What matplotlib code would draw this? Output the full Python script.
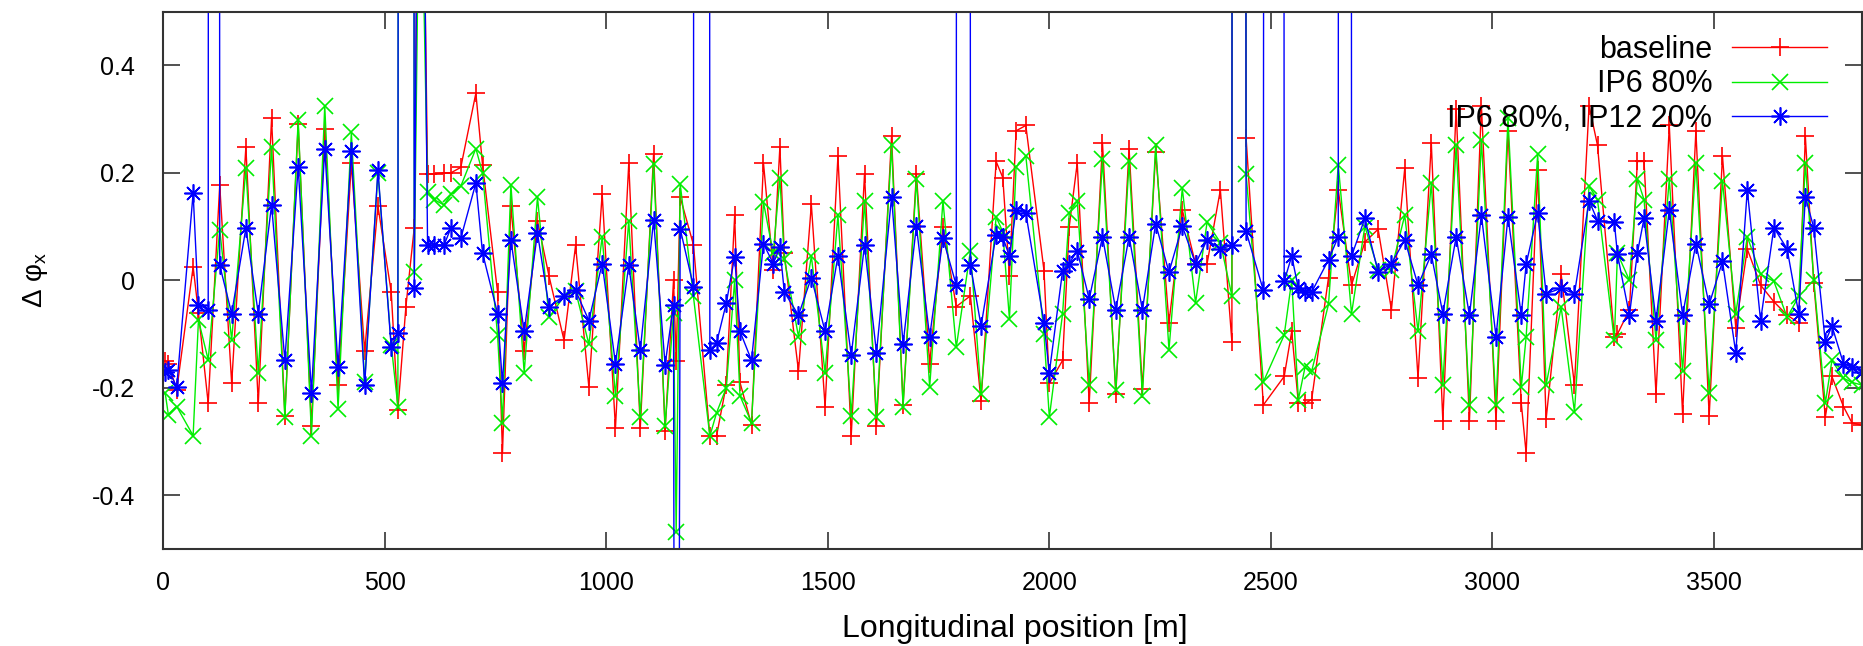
import numpy as np
import matplotlib
matplotlib.use("Agg")
import matplotlib.pyplot as plt

plt.rcParams["font.family"] = ["Liberation Sans", "DejaVu Sans"]

# longitudinal position of the monitors [m]
s_ring = [5, 12, 31, 68, 80, 102, 128, 155, 187, 215, 245, 275, 305, 335, 365,
          395, 425, 455, 485, 515, 530, 548, 567, 580, 597, 612, 634, 650, 672,
          706, 721, 755, 766, 785, 815, 845, 871, 905, 931, 961, 991, 1021,
          1051, 1077, 1107, 1133, 1152, 1158, 1167, 1197, 1234, 1249, 1271,
          1290, 1302, 1328, 1355, 1377, 1392, 1402, 1434, 1463, 1494, 1523,
          1553, 1583, 1610, 1644, 1670, 1700, 1730, 1760, 1790, 1822, 1846,
          1880, 1895, 1910, 1925, 1947, 1988, 2000, 2030, 2045, 2063, 2090,
          2120, 2150, 2180, 2210, 2240, 2270, 2300, 2330, 2356, 2386, 2412,
          2428, 2444, 2483, 2530, 2547, 2562, 2577, 2592, 2630, 2652, 2682,
          2712, 2742, 2772, 2802, 2832, 2862, 2888, 2918, 2948, 2975, 3008,
          3035, 3065, 3076, 3102, 3121, 3155, 3185, 3218, 3237, 3275, 3282,
          3309, 3327, 3342, 3369, 3399, 3429, 3459, 3489, 3519, 3549, 3575,
          3605, 3635, 3665, 3691, 3706, 3725, 3751, 3766, 3792, 3811, 3834]

dphi_base = [-0.15, -0.155, -0.204, 0.025, -0.06, -0.229, 0.177, -0.192, 0.248,
             -0.229, 0.301, -0.252, 0.291, -0.272, 0.281, -0.195, 0.218, -0.132,
             0.138, -0.022, -0.242, -0.05, 0.098, 1.2, 0.198, 0.198, 0.2, 0.2,
             0.21, 0.348, 0.215, -0.022, -0.322, 0.138, -0.132, 0.111, 0.008,
             -0.112, 0.065, -0.199, 0.161, -0.275, 0.218, -0.275, 0.235, -0.28,
             0.0, -0.15, 0.155, 0.066, -0.29, -0.29, -0.195, 0.121, -0.19,
             -0.269, 0.218, 0.02, 0.248, 0.05, -0.169, 0.141, -0.235, 0.231,
             -0.289, 0.198, -0.272, 0.268, -0.232, 0.198, -0.155, 0.1, -0.049,
             -0.029, -0.225, 0.221, 0.191, 0.008, 0.278, 0.288, 0.018, -0.192,
             -0.149, 0.1, 0.218, -0.229, 0.255, -0.212, 0.245, -0.202, 0.238,
             -0.079, 0.131, 0.03, 0.031, 0.168, -0.115, 25.0, 0.265, -0.232,
             -0.179, -0.095, -0.229, -0.229, -0.222, 0.005, 0.168, -0.009,
             0.071, 0.095, -0.055, 0.208, -0.182, 0.255, -0.262, 0.318, -0.262,
             0.325, -0.262, 0.278, -0.229, -0.322, 0.205, -0.259, 0.011, -0.195,
             0.325, 0.251, -0.105, -0.1, -0.055, 0.221, 0.221, -0.212, 0.288,
             -0.249, 0.278, -0.252, 0.231, -0.089, 0.058, -0.009, -0.04, -0.065,
             -0.079, 0.268, -0.005, -0.255, -0.179, -0.235, -0.265, -0.27]

dphi_ip6 = [-0.21, -0.25, -0.235, -0.289, -0.074, -0.148, 0.094, -0.111, 0.208,
            -0.173, 0.248, -0.255, 0.298, -0.289, 0.325, -0.239, 0.275, -0.189,
            0.2, -0.12, -0.235, 20.0, 0.015, 0.9, 0.165, 0.15, 0.14, 0.16,
            0.175, 0.245, 0.2, -0.102, -0.265, 0.178, -0.172, 0.155, -0.069,
            -0.03, -0.02, -0.119, 0.081, -0.215, 0.111, -0.255, 0.217, -0.272,
            -0.06, -0.468, 0.18, -0.03, -0.29, -0.247, -0.2, 0.0, -0.215,
            -0.265, 0.145, 0.05, 0.191, 0.04, -0.105, 0.045, -0.172, 0.121,
            -0.252, 0.148, -0.255, 0.251, -0.235, 0.188, -0.199, 0.148, -0.125,
            0.055, -0.212, 0.118, 0.09, -0.072, 0.211, 0.231, -0.1, -0.255,
            -0.062, 0.125, 0.148, -0.195, 0.225, -0.205, 0.221, -0.215, 0.251,
            -0.129, 0.171, -0.042, 0.108, 0.07, -0.029, 25.0, 0.198, -0.189,
            -0.102, 0.0, -0.222, -0.162, -0.169, -0.045, 0.215, -0.062, 0.1,
            0.02, 0.02, 0.121, -0.095, 0.181, -0.195, 0.251, -0.232, 0.261,
            -0.232, 0.301, -0.199, -0.105, 0.235, -0.195, -0.05, -0.245, 0.175,
            0.15, -0.112, 0.05, 0.0, 0.188, 0.15, -0.112, 0.188, -0.169, 0.218,
            -0.209, 0.185, -0.062, 0.081, 0.011, -0.002, -0.069, -0.03, 0.218,
            0.0, -0.229, -0.149, -0.182, -0.19, -0.195]

dphi_ip12 = [-0.17, -0.167, -0.198, 0.162, -0.046, -0.055, 0.028, -0.062, 0.097,
             -0.062, 0.14, -0.149, 0.211, -0.209, 0.245, -0.162, 0.241, -0.195,
             0.205, -0.125, -0.099, 20.0, -0.015, 1.5, 0.065, 0.065, 0.065,
             0.098, 0.078, 0.181, 0.051, -0.062, -0.192, 0.075, -0.095, 0.088,
             -0.049, -0.029, -0.019, -0.075, 0.031, -0.155, 0.028, -0.13, 0.112,
             -0.157, -0.046, -3.0, 0.096, -0.012, -0.13, -0.117, -0.043, 0.044,
             -0.095, -0.149, 0.068, 0.031, 0.061, -0.022, -0.065, 0.005, -0.095,
             0.045, -0.139, 0.065, -0.135, 0.155, -0.119, 0.101, -0.105, 0.078,
             -0.009, 0.028, -0.085, 0.085, 0.08, 0.045, 0.131, 0.125, -0.079,
             -0.172, 0.018, 0.031, 0.055, -0.035, 0.081, -0.055, 0.081, -0.055,
             0.105, 0.015, 0.101, 0.031, 0.075, 0.058, 0.065, 25.0, 0.091,
             -0.019, -0.002, 0.045, -0.015, -0.022, -0.022, 0.038, 0.081, 0.045,
             0.115, 0.015, 0.031, 0.075, -0.009, 0.048, -0.062, 0.081, -0.065,
             0.121, -0.105, 0.118, -0.065, 0.03, 0.125, -0.025, -0.015, -0.025,
             0.148, 0.111, 0.108, 0.048, -0.065, 0.051, 0.115, -0.075, 0.131,
             -0.065, 0.068, -0.045, 0.035, -0.135, 0.168, -0.075, 0.098, 0.058,
             -0.062, 0.155, 0.098, -0.115, -0.085, -0.155, -0.162, -0.17]

# extra monitors only in the IP12 case, far off scale
s_ip12_spikes = [115, 1215, 1807, 2510, 2666]
dphi_ip12_spikes = [30.0, 30.0, 30.0, 30.0, 30.0]

labels = ["baseline", "IP6 80%", "IP6 80%, IP12 20%"]

s_blue = np.concatenate([s_ring, s_ip12_spikes])
v_blue = np.concatenate([dphi_ip12, dphi_ip12_spikes])
order = np.argsort(s_blue)

fig = plt.figure(figsize=(18.63, 6.46), dpi=100)
ax = fig.add_axes([163 / 1863, 97 / 646, 1 - 163 / 1863 - 0.0005, 537.5 / 646])

ax.plot(s_ring, dphi_base, color="#ff0000", lw=1.0, marker="+", ms=13,
        mew=1.2, label=labels[0])
ax.plot(s_ring, dphi_ip6, color="#00ee00", lw=1.0, marker="x", ms=11,
        mew=1.2, label=labels[1])
ax.plot(s_blue[order], v_blue[order], color="#0000ff", lw=1.0,
        marker=(8, 2, 0), ms=13, mew=1.2, label=labels[2])

ax.set_xlim(0, 3834)
ax.set_ylim(-0.5, 0.5)
ax.set_xticks(np.arange(0, 3501, 500))
ax.set_yticks([-0.4, -0.2, 0, 0.2, 0.4])
ax.set_yticklabels(["-0.4", "-0.2", "0", "0.2", "0.4"])
ax.tick_params(direction="in", length=12, width=1.2, top=True, right=True,
               labelsize=18, color="#333333")
ax.tick_params(axis="y", pad=20)
ax.tick_params(axis="x", pad=16)
for sp in ax.spines.values():
    sp.set_linewidth(1.5)
    sp.set_color("#333333")

ax.set_xlabel("Longitudinal position [m]", fontsize=23)
ax.xaxis.set_label_coords((1015 - 163) / 1700, -(614 - 549) / 537.5)
ax.set_ylabel(r"Δ φ$_\mathregular{x}$", fontsize=20)
ax.yaxis.set_label_coords(-(163 - 50) / 1700, 0.5)

ax.legend(loc="upper right", frameon=False, markerfirst=False, fontsize=22,
          handlelength=3.1, handletextpad=0.65, labelspacing=0.14,
          borderpad=0, borderaxespad=0,
          bbox_to_anchor=(1827 / 1863, (646 - 35) / 646),
          bbox_transform=fig.transFigure)

fig.savefig("out.png", dpi=100)
